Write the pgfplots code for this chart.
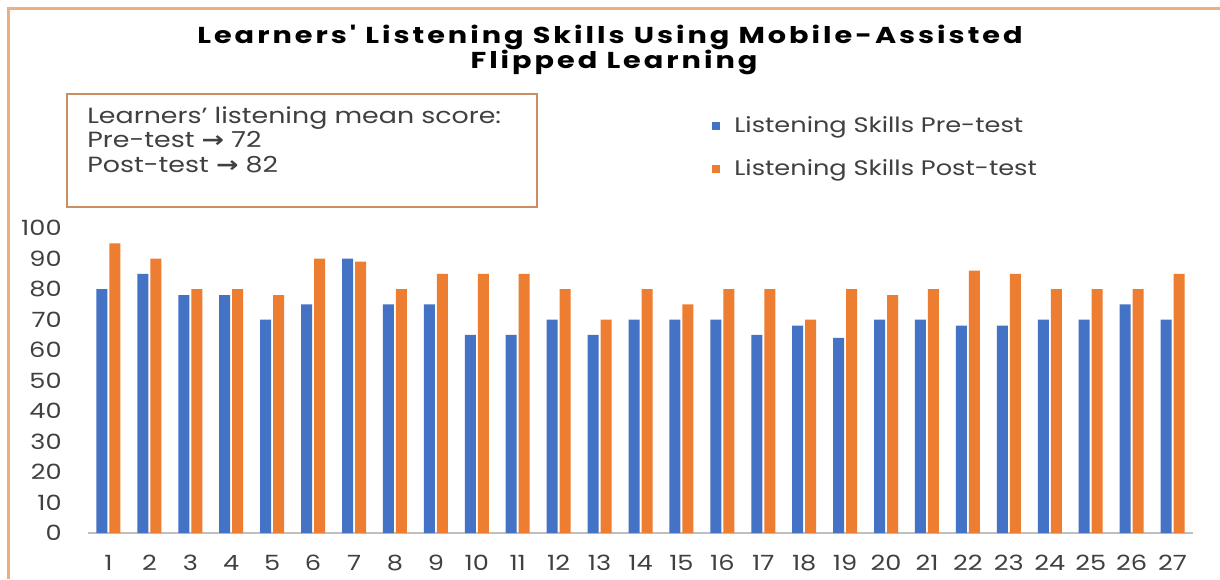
\documentclass[border=0pt]{standalone}
\usepackage{fontspec}
\usepackage{pgfplots}
\pgfplotsset{compat=1.18}
\setmainfont[FakeStretch=1.22]{Poppins}
\newfontfamily\titlefont[LetterSpace=13,FakeStretch=1.25]{Poppins}
\newfontfamily\symfont[FakeStretch=1.22]{DejaVu Sans}
\definecolor{preblue}{HTML}{4472C4}
\definecolor{postorange}{HTML}{ED7D31}
\definecolor{frameorange}{HTML}{EFAE7E}
\definecolor{boxorange}{HTML}{C98E62}
\definecolor{txt}{HTML}{404040}
\definecolor{basegray}{HTML}{BFBFBF}

\pgfplotstableread{
id pre post
1 80 95
2 85 90
3 78 80
4 78 80
5 70 78
6 75 90
7 90 89
8 75 80
9 75 85
10 65 85
11 65 85
12 70 80
13 65 70
14 70 80
15 70 75
16 70 80
17 65 80
18 68 70
19 64 80
20 70 78
21 70 80
22 68 86
23 68 85
24 70 80
25 70 80
26 75 80
27 70 85
}\scores

\begin{document}
\begin{tikzpicture}
\useasboundingbox (0,0) rectangle (610pt,-289.5pt);
\fill[white] (0,0) rectangle (610pt,-289.5pt);
\draw[frameorange, line width=1.5pt] (4pt,-289.5pt) -- (4pt,-4pt) -- (610pt,-4pt);
\node[font=\titlefont\bfseries\fontsize{11.5}{14}\selectfont, anchor=base, text=black, inner sep=0pt] at (305pt,-21.5pt) {Learners' Listening Skills Using Mobile-Assisted};
\node[font=\titlefont\bfseries\fontsize{11.5}{14}\selectfont, anchor=base, text=black, inner sep=0pt] at (307pt,-34pt) {Flipped Learning};
\draw[boxorange, line width=0.8pt] (33.5pt,-47pt) rectangle (268.5pt,-103.5pt);
\node[font=\fontsize{11}{13}\selectfont, anchor=base west, text=txt, inner sep=0pt] at (43.5pt,-61.5pt) {Learners' listening mean score:};
\node[font=\fontsize{11}{13}\selectfont, anchor=base west, text=txt, inner sep=0pt] at (43.5pt,-73.5pt) {Pre-test {\symfont\bfseries →} 72};
\node[font=\fontsize{11}{13}\selectfont, anchor=base west, text=txt, inner sep=0pt] at (43.5pt,-86pt) {Post-test {\symfont\bfseries →} 82};
\begin{axis}[
  at={(44pt,-266.5pt)}, anchor=south west,
  scale only axis, width=552.5pt, height=152.5pt,
  xmin=0.5, xmax=27.5, ymin=0, ymax=100,
  ybar=1pt, bar width=5.5pt,
  xtick={1,...,27}, ytick={0,10,...,100},
  axis x line=bottom, axis y line=left,
  x axis line style={basegray, line width=0.8pt, -},
  y axis line style={draw=none},
  major tick length=0pt,
  tick label style={font=\fontsize{10.5}{12}\selectfont, text=txt},
  /pgf/number format/assume math mode=true,
  yticklabel style={anchor=east, inner sep=0pt, xshift=-13pt},
  xticklabel style={anchor=north, inner sep=0pt, yshift=-11pt},
  legend style={at={(0.5647,1.38)}, anchor=north west, draw=none, fill=none,
    font=\fontsize{10.5}{12}\selectfont, text=txt, inner sep=0pt, row sep=8pt,
    /tikz/every odd column/.append style={column sep=5pt}},
  legend image code/.code={\fill[#1] (0pt,-2pt) rectangle (4pt,2pt);},
  legend cell align=left,
]
\addplot[fill=preblue, draw=none] table[x=id, y=pre] {\scores};
\addplot[fill=postorange, draw=none] table[x=id, y=post] {\scores};
\legend{Listening Skills Pre-test, Listening Skills Post-test}
\end{axis}
\end{tikzpicture}
\end{document}
